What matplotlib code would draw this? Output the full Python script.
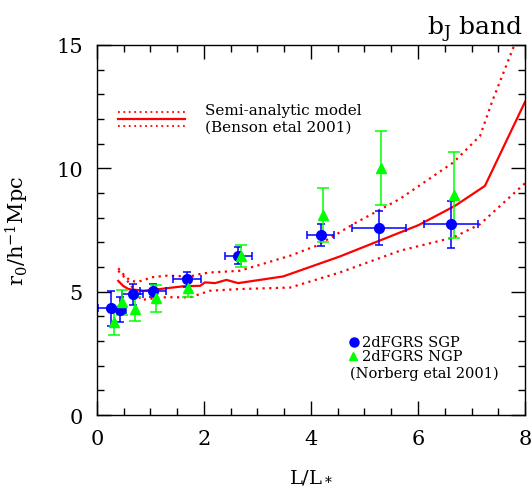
import matplotlib
matplotlib.use("Agg")
import matplotlib.pyplot as plt

plt.rcParams['font.family'] = ['DejaVu Serif']
plt.rcParams['mathtext.fontset'] = 'dejavuserif'

# semi-analytic model (Benson et al 2001): median and spread
model_x = [0.40, 0.49, 0.59, 0.87, 1.18, 1.61, 1.93, 2.02, 2.21, 2.42, 2.64, 3.48, 4.54, 6.01, 6.69, 7.25, 8.0]
model_y = [5.44, 5.24, 5.11, 5.04, 5.11, 5.22, 5.24, 5.38, 5.35, 5.48, 5.35, 5.62, 6.43, 7.70, 8.48, 9.29, 12.7]

upper_x = [0.40, 0.50, 0.62, 0.75, 0.90, 0.99, 1.30, 1.61, 1.74, 1.93, 2.11, 2.67, 2.98, 3.61, 4.10, 4.54, 4.79, 5.66, 6.66, 7.16, 7.39, 7.80, 8.0]
upper_y = [5.95, 5.70, 5.45, 5.40, 5.48, 5.58, 5.65, 5.63, 5.62, 5.72, 5.78, 5.85, 6.05, 6.46, 6.86, 7.41, 7.74, 8.76, 10.24, 11.32, 12.74, 15.0, 16.1]

lower_x = [0.40, 0.49, 0.62, 0.74, 0.83, 0.93, 1.05, 1.30, 1.74, 2.11, 2.67, 3.61, 4.54, 5.66, 6.66, 7.16, 8.0]
lower_y = [5.85, 5.65, 5.31, 4.97, 4.66, 4.70, 4.73, 4.78, 4.77, 5.04, 5.11, 5.17, 5.78, 6.66, 7.20, 7.74, 9.4]

# 2dFGRS SGP (Norberg et al 2001)
sgp_x = [0.27, 0.43, 0.67, 1.05, 1.68, 2.64, 4.18, 5.27, 6.62]
sgp_y = [4.33, 4.27, 4.90, 5.04, 5.51, 6.46, 7.30, 7.58, 7.73]
sgp_xerr = [0.25, 0.12, 0.20, 0.25, 0.26, 0.25, 0.25, 0.51, 0.50]
sgp_yerr = [0.70, 0.50, 0.42, 0.27, 0.30, 0.35, 0.45, 0.68, 0.95]

# 2dFGRS NGP
ngp_x = [0.32, 0.47, 0.72, 1.10, 1.71, 2.69, 4.23, 5.30, 6.67]
ngp_y = [3.76, 4.57, 4.30, 4.73, 5.17, 6.46, 8.11, 10.0, 8.92]
ngp_yerr = [0.50, 0.50, 0.50, 0.55, 0.40, 0.45, 1.10, 1.50, 1.75]

red = '#ff0000'
dots = (0, (1, 2))

fig = plt.figure(figsize=(5.32, 4.89), dpi=100)
ax = fig.add_axes([0.182, 0.149, 0.805, 0.757])

ax.plot(model_x, model_y, color=red, lw=1.6)
ax.plot(upper_x, upper_y, color=red, lw=1.6, ls=dots)
ax.plot(lower_x, lower_y, color=red, lw=1.6, ls=dots)

ax.errorbar(sgp_x, sgp_y, xerr=sgp_xerr, yerr=sgp_yerr, fmt='o', color='#0000ff',
            ms=7, elinewidth=1.1, capsize=3, capthick=1.1)
ax.errorbar(ngp_x, ngp_y, yerr=ngp_yerr, fmt='^', color='#00ff00',
            ms=6.5, elinewidth=1.1, capsize=4, capthick=1.1)

ax.set_xlim(0, 8)
ax.set_ylim(0, 15)
ax.set_xticks([0, 2, 4, 6, 8])
ax.set_xticks([i * 0.5 for i in range(17)], minor=True)
ax.set_yticks([0, 5, 10, 15])
ax.set_yticks(range(16), minor=True)
ax.tick_params(which='both', direction='in', top=True, right=True, labelsize=15, width=1.0)
ax.tick_params(which='major', length=10, pad=10)
ax.tick_params(which='minor', length=5)
for s in ax.spines.values():
    s.set_linewidth(1.0)

ax.set_xlabel(r'L/L$_*$', fontsize=14, labelpad=14)
ax.set_ylabel(r'r$_0$/h$^{-1}$Mpc', fontsize=15, labelpad=18)
ax.text(0.995, 1.03, r'b$_\mathrm{J}$ band', transform=ax.transAxes, ha='right', va='baseline', fontsize=18)

# model key
tr = ax.transAxes
ax.plot([0.049, 0.206], [0.819, 0.819], transform=tr, color=red, lw=1.3, ls=dots)
ax.plot([0.049, 0.206], [0.800, 0.800], transform=tr, color=red, lw=1.6)
ax.plot([0.049, 0.206], [0.781, 0.781], transform=tr, color=red, lw=1.3, ls=dots)
ax.text(0.252, 0.825, 'Semi-analytic model', transform=tr, fontsize=11, va='center')
ax.text(0.252, 0.780, '(Benson etal 2001)', transform=tr, fontsize=11, va='center')

# data key
ax.plot([0.601], [0.197], transform=tr, marker='o', color='#0000ff', ms=6.5)
ax.plot([0.599], [0.159], transform=tr, marker='^', color='#00ff00', ms=5.5)
ax.text(0.620, 0.197, '2dFGRS SGP', transform=tr, fontsize=10.5, va='center')
ax.text(0.620, 0.159, '2dFGRS NGP', transform=tr, fontsize=10.5, va='center')
ax.text(0.591, 0.115, '(Norberg etal 2001)', transform=tr, fontsize=10.5, va='center')

fig.savefig('out.png', dpi=100)
